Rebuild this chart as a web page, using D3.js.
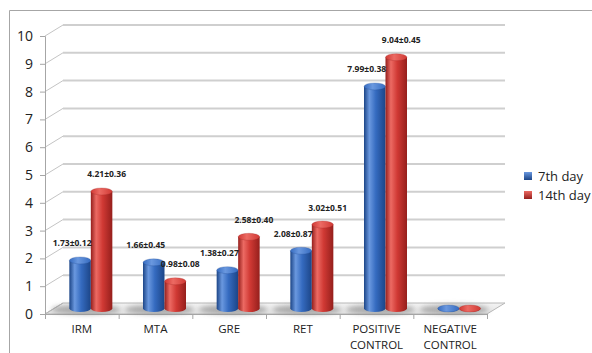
<!DOCTYPE html>
<html>
<head>
<meta charset="utf-8">
<script src="https://cdn.jsdelivr.net/npm/d3@7/dist/d3.min.js"></script>
<style>
  html, body { margin: 0; padding: 0; background: #fff; }
  svg { display: block; font-family: "Open Sans", "DejaVu Sans", sans-serif; }
</style>
</head>
<body>
<svg id="chart" width="592" height="353"></svg>
<script>
// Categories, series and values
const categories = ["IRM", "MTA", "GRE", "RET", "POSITIVE CONTROL", "NEGATIVE CONTROL"];
const seriesNames = ["7th day", "14th day"];
const day7 = [1.73, 1.66, 1.38, 2.08, 7.99, 0];
const day14 = [4.21, 0.98, 2.58, 3.02, 9.04, 0];
const day7Err = [0.12, 0.45, 0.27, 0.87, 0.38, null];
const day14Err = [0.36, 0.08, 0.40, 0.51, 0.45, null];
const yTicks = [0, 1, 2, 3, 4, 5, 6, 7, 8, 9, 10];

(function () {
const svg = d3.select("#chart");
const W = 592, H = 353;

// Plot frame (front plane) and depth offset of the back wall
const plotL = 45, plotR = 487, plotB = 314, plotT = 36;
const depth = { dx: 18, dy: -11 };
const mid = { dx: depth.dx / 2, dy: depth.dy / 2 };

const x = d3.scaleBand().domain(categories).range([plotL, plotR]);
const y = d3.scaleLinear().domain([0, 10]).range([plotB, plotT]);

const palette = [
  { base: "#356bc0", light: "#6a98df", dark: "#1c4587" },
  { base: "#d03934", light: "#ec6a63", dark: "#951f1c" }
];

const defs = svg.append("defs");
palette.forEach((p, i) => {
  const g = defs.append("linearGradient").attr("id", "cyl" + i)
    .attr("x1", "0").attr("x2", "1").attr("y1", "0").attr("y2", "0");
  g.append("stop").attr("offset", "0%").attr("stop-color", p.dark);
  g.append("stop").attr("offset", "25%").attr("stop-color", p.light);
  g.append("stop").attr("offset", "55%").attr("stop-color", p.base);
  g.append("stop").attr("offset", "100%").attr("stop-color", p.dark);
  const t = defs.append("linearGradient").attr("id", "cap" + i)
    .attr("x1", "0").attr("x2", "1").attr("y1", "0").attr("y2", "0");
  t.append("stop").attr("offset", "0%").attr("stop-color", p.base);
  t.append("stop").attr("offset", "40%").attr("stop-color", p.light);
  t.append("stop").attr("offset", "100%").attr("stop-color", p.base);
  const lg = defs.append("linearGradient").attr("id", "leg" + i)
    .attr("x1", "0").attr("x2", "0").attr("y1", "0").attr("y2", "1");
  lg.append("stop").attr("offset", "0%").attr("stop-color", p.light);
  lg.append("stop").attr("offset", "100%").attr("stop-color", p.dark);
});
const floorGrad = defs.append("linearGradient").attr("id", "floorGrad")
  .attr("x1", "0").attr("x2", "0").attr("y1", "0").attr("y2", "1");
floorGrad.append("stop").attr("offset", "0%").attr("stop-color", "#f4f4f4");
floorGrad.append("stop").attr("offset", "100%").attr("stop-color", "#e2e2e2");
defs.append("filter").attr("id", "soft").attr("x", "-50%").attr("y", "-200%")
  .attr("width", "200%").attr("height", "500%")
  .append("feGaussianBlur").attr("stdDeviation", 2.5);

// Outer chart border
svg.append("path")
  .attr("d", `M9.5,${H} L9.5,10.5 L${W},10.5`)
  .attr("fill", "none").attr("stroke", "#a6a6a6").attr("stroke-width", 1);

// Floor
svg.append("path")
  .attr("d", `M${plotL},${plotB} L${plotR},${plotB} L${plotR + depth.dx},${plotB + depth.dy} L${plotL + depth.dx},${plotB + depth.dy} Z`)
  .attr("fill", "url(#floorGrad)").attr("stroke", "#b8b8b8").attr("stroke-width", 1);

// Back-wall gridlines and side-wall diagonals
const grid = svg.append("g");
yTicks.filter(t => t > 0).forEach(t => {
  const yy = y(t);
  grid.append("line")
    .attr("x1", plotL + depth.dx).attr("x2", plotR + depth.dx)
    .attr("y1", yy + depth.dy).attr("y2", yy + depth.dy)
    .attr("stroke", "#cfcfcf").attr("stroke-width", 2);
  grid.append("line")
    .attr("x1", plotL).attr("x2", plotL + depth.dx)
    .attr("y1", yy).attr("y2", yy + depth.dy)
    .attr("stroke", "#c4c4c4").attr("stroke-width", 1);
});
grid.append("line")
  .attr("x1", plotL).attr("x2", plotL + depth.dx)
  .attr("y1", plotB).attr("y2", plotB + depth.dy)
  .attr("stroke", "#b8b8b8").attr("stroke-width", 1);

// Y axis
const yAxis = d3.axisLeft(y).tickValues(yTicks).tickSize(5).tickPadding(7).tickFormat(d3.format("d"));
const yG = svg.append("g").attr("transform", `translate(${plotL},0)`).call(yAxis);
yG.select(".domain").attr("stroke", "#a6a6a6");
yG.selectAll(".tick line").attr("stroke", "#a6a6a6");
yG.selectAll(".tick text").attr("font-size", 14).attr("fill", "#222")
  .attr("font-family", "'Open Sans', sans-serif");

// X axis: ticks at category boundaries, two-line category names
const xG = svg.append("g");
xG.append("line").attr("x1", plotL).attr("x2", plotR).attr("y1", plotB + 0.5).attr("y2", plotB + 0.5)
  .attr("stroke", "#a6a6a6");
const bounds = categories.map(c => x(c)).concat([plotR]);
bounds.forEach(b => {
  xG.append("line").attr("x1", b + 0.5).attr("x2", b + 0.5)
    .attr("y1", plotB).attr("y2", plotB + 5).attr("stroke", "#a6a6a6");
});
categories.forEach(c => {
  const cx = x(c) + x.bandwidth() / 2;
  c.split(" ").forEach((w, i) => {
    xG.append("text")
      .attr("x", cx).attr("y", 333 + i * 15.5)
      .attr("text-anchor", "middle")
      .attr("font-size", 11.5).attr("fill", "#222")
      .text(w);
  });
});

// Bars as cylinders standing at mid depth
const barW = 21.5, rx = barW / 2, ry = 3.5;
const ym = v => y(v) + mid.dy;
const values = [day7, day14];
const errs = [day7Err, day14Err];
const barCx = (i, s) => x(categories[i]) + x.bandwidth() / 2 + mid.dx + (s === 0 ? -rx : rx);

// Floor shadows under each group
const shadows = svg.append("g").attr("filter", "url(#soft)");
categories.forEach((c, i) => {
  shadows.append("ellipse")
    .attr("cx", x(c) + x.bandwidth() / 2 + mid.dx - 5)
    .attr("cy", ym(0) + 1)
    .attr("rx", barW + 13).attr("ry", 5)
    .attr("fill", "#808080").attr("opacity", 0.6);
});

const bars = svg.append("g");
categories.forEach((c, i) => {
  [0, 1].forEach(s => {
    const v = values[s][i];
    const cx = barCx(i, s);
    const yb = ym(0), yt = ym(v);
    const g = bars.append("g");
    g.append("path")
      .attr("d", `M${cx - rx},${yt} L${cx - rx},${yb} A${rx},${ry} 0 0 0 ${cx + rx},${yb} L${cx + rx},${yt} Z`)
      .attr("fill", `url(#cyl${s})`);
    g.append("ellipse")
      .attr("cx", cx).attr("cy", yt).attr("rx", rx).attr("ry", ry)
      .attr("fill", `url(#cap${s})`)
      .attr("stroke", palette[s].dark).attr("stroke-width", 0.4).attr("stroke-opacity", 0.6);
  });
});

// Value labels (mean ± SD)
const labels = svg.append("g");
categories.forEach((c, i) => {
  [0, 1].forEach(s => {
    if (errs[s][i] == null) return;
    const v = values[s][i];
    labels.append("text")
      .attr("x", barCx(i, s) + (s === 0 ? -8 : 5))
      .attr("y", ym(v) - 14)
      .attr("text-anchor", "middle")
      .attr("font-size", 8.5).attr("font-weight", "bold").attr("fill", "#222")
      .text(`${v.toFixed(2)}±${errs[s][i].toFixed(2)}`);
  });
});

// Legend
const legend = svg.append("g");
seriesNames.forEach((name, s) => {
  const ly = 176 + s * 19;
  legend.append("rect").attr("x", 524).attr("y", ly - 4).attr("width", 8).attr("height", 8)
    .attr("fill", `url(#leg${s})`);
  legend.append("text").attr("x", 538).attr("y", ly + 4.5)
    .attr("font-size", 13).attr("fill", "#222").text(name);
});
})();
</script>
</body>
</html>
